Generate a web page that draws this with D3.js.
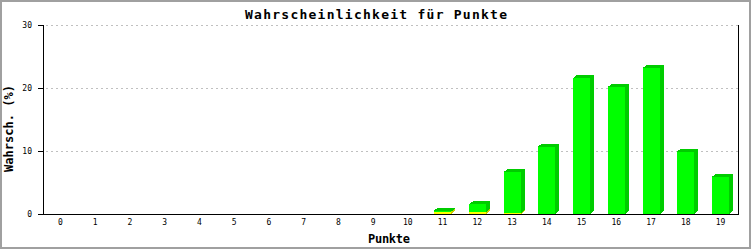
<!DOCTYPE html>
<html><head><meta charset="utf-8">
<script src="https://cdn.jsdelivr.net/npm/d3@7"></script>
<style>body{margin:0;background:#fff}svg{display:block}</style>
</head><body>
<script>
const categories = ["0","1","2","3","4","5","6","7","8","9","10","11","12","13","14","15","16","17","18","19"];
const yellowValues = [0,0,0,0,0,0,0,0,0,0,0,0.35,0.3,0.15,0,0,0,0,0,0];
const greenValues  = [0,0,0,0,0,0,0,0,0,0,0,0.2,1.25,6.55,10.7,21.6,20.2,23.2,9.9,5.9];
const yTicks = [0,10,20,30];
const title = "Wahrscheinlichkeit für Punkte";
const xTitle = "Punkte";
const yTitle = "Wahrsch. (%)";

const W = 753, H = 250;
const svg = d3.select("body").append("svg").attr("width", W).attr("height", H);
svg.append("rect").attr("x",1).attr("y",1).attr("width",749).attr("height",247)
  .attr("fill","#fff").attr("stroke","#a0a0a0").attr("stroke-width",2);

const L = 43, R = 738, T = 25, B = 214;
const x = d3.scaleBand().domain(categories).range([L, R]).padding(0);
const y = d3.scaleLinear().domain([0, 30]).range([B, T]);

// gridlines
svg.append("g").selectAll("line").data(yTicks.filter(d => d > 0)).join("line")
  .attr("x1", L + 1).attr("x2", R).attr("y1", d => y(d) + 0.5).attr("y2", d => y(d) + 0.5)
  .attr("stroke", "#c0c0c0").attr("stroke-dasharray", "2,3").attr("stroke-dashoffset", -2);

// bars
const dx = 4, dy = 3, bw = 17;
const series = [
  {vals: yellowValues, front: "#ffff00", dark: "#cccc00"},
  {vals: greenValues, front: "#00ff00", dark: "#00cc00"}
];
const stacks = categories.map((c, i) => {
  let base = 0; const segs = [];
  series.forEach(s => { const v = s.vals[i]; if (v > 0) segs.push({c, y0: base, y1: base + v, s}); base += v; });
  return segs;
}).flat();
const gb = svg.append("g").attr("shape-rendering", "crispEdges");
stacks.forEach(d => {
  const x0 = Math.round(x(d.c) + x.bandwidth()/2 - bw/2);
  const yt = y(d.y1), yb = y(d.y0);
  gb.append("path").attr("d", `M${x0+bw},${yt} L${x0+bw+dx},${yt-dy} L${x0+bw+dx},${yb-dy} L${x0+bw},${yb} Z`)
    .attr("fill", d.s.dark);
  gb.append("path").attr("d", `M${x0},${yt} L${x0+dx},${yt-dy} L${x0+bw+dx},${yt-dy} L${x0+bw},${yt} Z`)
    .attr("fill", d.s.dark);
  gb.append("rect").attr("x", x0).attr("y", yt).attr("width", bw).attr("height", yb - yt).attr("fill", d.s.front);
});

// axes lines
const ga = svg.append("g").attr("shape-rendering", "crispEdges").attr("stroke", "#000");
ga.append("line").attr("x1", L+0.5).attr("x2", L+0.5).attr("y1", T).attr("y2", B+1);
ga.append("line").attr("x1", R+0.5).attr("x2", R+0.5).attr("y1", T).attr("y2", B+1);
ga.append("line").attr("x1", L-5).attr("x2", R+1).attr("y1", B+0.5).attr("y2", B+0.5);
ga.selectAll(".yt").data(yTicks).join("line").attr("x1", L-5).attr("x2", L).attr("y1", d => y(d)+0.5).attr("y2", d => y(d)+0.5);

const mono = "'DejaVu Sans Mono', 'Liberation Mono', monospace";
svg.append("g").selectAll("text").data(yTicks).join("text")
  .attr("x", 32).attr("y", d => y(d) + 3).attr("text-anchor", "end")
  .attr("font-family", mono).attr("font-size", 8).text(d => d);
svg.append("g").selectAll("text").data(categories).join("text")
  .attr("x", d => x(d) + x.bandwidth()/2).attr("y", 225).attr("text-anchor", "middle")
  .attr("font-family", mono).attr("font-size", 8).text(d => d);

svg.append("text").attr("x", 376).attr("y", 19).attr("text-anchor", "middle")
  .attr("font-family", mono).attr("font-weight", "bold").attr("font-size", 13)
  .attr("textLength", 262).attr("lengthAdjust", "spacing").text(title);
svg.append("text").attr("x", 389).attr("y", 243).attr("text-anchor", "middle")
  .attr("font-family", mono).attr("font-weight", "bold").attr("font-size", 12)
  .attr("textLength", 42).attr("lengthAdjust", "spacing").text(xTitle);
svg.append("text").attr("transform", "translate(13,128.5) rotate(-90)").attr("text-anchor", "middle")
  .attr("font-family", mono).attr("font-weight", "bold").attr("font-size", 12)
  .attr("textLength", 87).attr("lengthAdjust", "spacing").text(yTitle);
</script>
</body></html>
